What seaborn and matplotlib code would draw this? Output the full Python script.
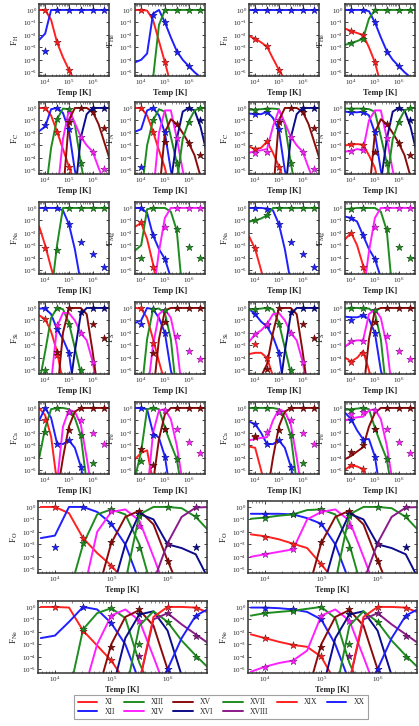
import matplotlib

matplotlib.use("Agg")
import matplotlib.pyplot as plt
import numpy as np
import pandas as pd
import seaborn as sns
from matplotlib.colors import to_rgb
from matplotlib.lines import Line2D

# log10(T) grid of the curves and the temperatures of the star markers
LOG_T = [3.75, 4.0, 4.25, 4.5, 4.75, 5.0, 5.25, 5.5, 5.75, 6.0, 6.25, 6.5, 6.75]
STAR_LOG_T = [4.0, 4.5, 5.0, 5.5, 6.0, 6.5]
N = None

ION_LABELS = ["XI", "XII", "XIII", "XIV", "XV", "XVI", "XVII", "XVIII", "XIX", "XX"]
ION_COLORS = ["#ff2020", "#1f1fff", "#1f8c1f", "#ff20ff", "#8b0b0b",
              "#0b0b8b", "#1f8c1f", "#8b1a8b", "#ff2020", "#1f1fff"]

# all values are log10 of the ion fraction; -7 is below the axis
H_A_LINES = [
    [0, 0, -0.8, -2.6, -3.8, -4.8, -5.7, -7, -7, -7, -7, -7, -7],
    [-2.4, -1.9, 0, 0, 0, 0, 0, 0, 0, 0, 0, 0, 0],
]
H_A_STARS = [[0, -2.6, -4.8, N, N, N], [-3.3, 0, 0, 0, 0, 0]]
H_B_LINES = [
    [-2.1, -2.3, -2.6, -2.95, -3.9, -4.8, -5.6, -7, -7, -7, -7, -7, -7],
    [0, 0, 0, 0, 0, 0, 0, 0, 0, 0, 0, 0, 0],
]
H_B_STARS = [[-2.3, -2.9, -4.8, N, N, N], [0, 0, 0, 0, 0, 0]]

HE_A_LINES = [
    [0, 0, -0.05, -0.8, -2.5, -4.2, -6, -7, -7, -7, -7, -7, -7],
    [-4.2, -4.0, -3.5, -0.3, 0, -1.0, -2.2, -3.3, -4.0, -4.5, -5.0, -5.4, -5.7],
    [-7, -7, -7, -5.5, -1.2, 0, 0, 0, 0, 0, 0, 0, 0],
]
HE_A_STARS = [[0, N, -4.2, N, N, N], [N, -0.4, -1.0, -3.35, -4.5, N], [N, N, 0, 0, 0, 0]]
HE_B_LINES = [
    [-1.5, -1.7, -1.85, -2.0, -3.0, -4.2, -6, -7, -7, -7, -7, -7, -7],
    [0, 0, 0, 0, -0.1, -1.0, -2.2, -3.3, -4.0, -4.5, -5.0, -5.4, -5.7],
    [-2.8, -2.65, -2.5, -2.3, -0.7, 0, 0, 0, 0, 0, 0, 0, 0],
]
HE_B_STARS = [[-1.7, -2.0, -4.2, N, N, N], [0, 0, -1.0, -3.35, -4.5, N], [-2.65, -2.35, 0, 0, 0, 0]]

C_A_LINES = [
    [0, 0, -0.6, -1.9, -3.3, -4.7, -6, -7, -7, -7, -7, -7, -7],
    [-1.85, -1.5, -0.1, 0, -0.4, -1.8, -5, -7, -7, -7, -7, -7, -7],
    [-7, -7, -3.2, -0.9, -0.05, -0.1, -1.3, -4.4, -7, -7, -7, -7, -7],
    [-7, -7, -7, -7, -2.5, -0.15, -1.2, -2.3, -3.0, -3.5, -4.8, -6, -7],
    [-7, -7, -7, -7, -7, -1.0, 0, 0, 0, -0.3, -1.3, -2.8, -4.3],
    [-7, -7, -7, -7, -7, -7, -7, -2.4, -0.5, 0, 0, 0, 0],
]
C_A_STARS = [
    [0, -1.9, -4.7, N, N, N], [-1.4, 0, -1.7, N, N, N], [N, -0.9, -0.05, -4.4, N, N],
    [N, N, -1.0, -2.3, -3.5, -4.9], [N, N, -1.15, 0, -0.3, -1.6], [N, N, N, N, 0, 0],
]
C_B_LINES = [
    [-3.1, -3.3, -3.2, -2.7, -3.6, -4.7, -6, -7, -7, -7, -7, -7, -7],
    [-0.45, -0.5, -0.5, -0.3, -0.8, -1.8, -5, -7, -7, -7, -7, -7, -7],
    [-0.15, -0.12, -0.1, -0.05, -0.05, -0.1, -1.3, -4.4, -7, -7, -7, -7, -7],
    [-3.6, -3.45, -3.4, -3.3, -1.5, -0.15, -1.2, -2.3, -3.0, -3.5, -4.8, -6, -7],
    [-7, -7, -7, -7, -7, -1.0, 0, 0, 0, -0.3, -1.3, -2.8, -4.3],
    [-7, -7, -7, -7, -7, -7, -7, -2.4, -0.5, 0, 0, 0, 0],
]
C_B_STARS = [
    [-3.3, -2.65, -4.7, N, N, N], [-0.5, -0.35, -1.7, N, N, N], [-0.15, -0.1, N, -4.4, N, N],
    [-3.6, -3.5, -1.0, -2.3, -3.5, -4.9], [N, N, -1.15, 0, -0.3, -1.6], [N, N, N, N, 0, 0],
]

N_A_LINES = [
    [0, 0, -0.6, -1.9, -3.4, -4.8, -7, -7, -7, -7, -7, -7, -7],
    [-1.9, -1.7, -0.2, 0, -0.6, -2.0, -5, -7, -7, -7, -7, -7, -7],
    [-7, -7, -3.0, -1.0, -0.1, -0.3, -2.3, -4.4, -7, -7, -7, -7, -7],
    [-7, -7, -7, -7, -2.0, -0.2, -0.2, -2.4, -5.0, -7, -7, -7, -7],
    [-7, -7, -7, -7, -7, -2.0, -0.9, -1.3, -2.0, -2.8, -3.8, -5.5, -7],
    [-7, -7, -7, -7, -7, -7, -6, -2.5, -0.3, 0, -0.2, -1.5, -3.5],
    [-7, -7, -7, -7, -7, -7, -7, -6, -2.5, -1.1, -0.2, 0, 0],
]
N_A_STARS = [
    [0, -1.9, N, N, N, N], [-4.7, 0, -1.9, N, N, N], [N, -1.0, N, -4.4, N, N],
    [N, N, N, -2.4, N, N], [N, N, -2.7, -1.3, -2.8, -3.8], [N, N, N, N, 0, -1.0],
    [N, N, N, N, -1.1, 0],
]
N_B_LINES = [
    [-3.0, -2.95, -2.9, -2.95, -3.8, -4.8, -7, -7, -7, -7, -7, -7, -7],
    [-0.3, -0.35, -0.35, -0.3, -0.6, -2.0, -5, -7, -7, -7, -7, -7, -7],
    [-0.05, -0.05, -0.05, -0.05, -0.1, -0.3, -2.3, -4.4, -7, -7, -7, -7, -7],
    [-3.5, -3.45, -3.3, -3.4, -1.0, -0.2, -0.2, -2.4, -5.0, -7, -7, -7, -7],
    [-7, -7, -7, -7, -7, -2.0, -0.9, -1.3, -2.0, -2.8, -3.8, -5.5, -7],
    [-7, -7, -7, -7, -7, -7, -6, -2.5, -0.3, 0, -0.2, -1.5, -3.5],
    [-7, -7, -7, -7, -7, -7, -7, -6, -2.5, -1.1, -0.2, 0, 0],
]
N_B_STARS = [
    [-2.9, -2.95, N, N, N, N], [-0.35, -0.3, -1.9, N, N, N], [-0.05, -0.05, N, -4.4, N, N],
    [-3.45, -3.4, N, -2.4, N, N], [N, N, -3.5, -1.3, -2.8, -3.8], [N, N, N, N, 0, -1.0],
    [N, N, N, N, -1.1, 0],
]

NA_A_LINES = [
    [-1.5, -3.0, -4.8, -6.5, -7, -7, -7, -7, -7, -7, -7, -7, -7],
    [0, 0, 0, 0, -0.2, -1.3, -3.3, -6, -7, -7, -7, -7, -7],
    [-7, -7, -7, -3.0, 0, 0, 0, 0, 0, 0, 0, 0, 0],
]
NA_A_STARS = [[-3.2, N, N, N, N, N], [0, 0, -1.3, -2.7, -3.7, -4.7], [N, -3.4, 0, 0, 0, 0]]
NA_B_LINES = [
    [-2.3, -3.3, -5, -7, -7, -7, -7, -7, -7, -7, -7, -7, -7],
    [0, 0, 0, -0.05, -0.2, -1.3, -3.3, -6, -7, -7, -7, -7, -7],
    [-1.1, -1.0, -0.85, -0.6, 0, 0, 0, 0, 0, 0, 0, 0, 0],
]
NA_B_STARS = [[-3.2, N, N, N, N, N], [0, -0.05, -1.3, -2.7, -3.7, -4.7], [-1.0, -0.6, 0, 0, 0, 0]]

MG_A_LINES = [
    [-1.5, -1.2, -2.5, -4.5, -7, -7, -7, -7, -7, -7, -7, -7, -7],
    [0, 0, -0.4, -2.2, -3.3, -4.1, -5.6, -7, -7, -7, -7, -7, -7],
    [-3.4, -3.0, -0.1, 0, 0, 0, -0.3, -1.8, -7, -7, -7, -7, -7],
    [-7, -7, -7, -7, -3.5, -0.8, 0, 0, 0, 0, 0, 0, 0],
]
MG_A_STARS = [
    [-1.15, -4.7, N, N, N, N], [0, -2.2, -4.1, N, N, N],
    [-4.05, 0, N, -1.7, -3.1, -4.0], [N, N, -1.55, 0, 0, 0],
]
MG_B_LINES = [
    [-2.5, -2.0, -3.0, -4.6, -7, -7, -7, -7, -7, -7, -7, -7, -7],
    [-0.7, -0.8, -1.1, -2.2, -3.3, -4.1, -5.6, -7, -7, -7, -7, -7, -7],
    [-0.08, -0.05, 0, 0, 0, 0, -0.3, -1.8, -7, -7, -7, -7, -7],
    [-7, -7, -7, -7, -3.5, -0.8, 0, 0, 0, 0, 0, 0, 0],
]
MG_B_STARS = [
    [-2.0, -4.7, N, N, N, N], [-0.8, -2.2, -4.1, N, N, N],
    [-0.05, 0, N, -1.7, -3.1, -4.0], [N, N, -1.55, 0, 0, 0],
]

SI_A_LINES = [
    [-0.6, -0.9, -1.9, -3.5, -6, -7, -7, -7, -7, -7, -7, -7, -7],
    [-0.05, -0.05, -0.5, -1.7, -2.5, -3.6, -7, -7, -7, -7, -7, -7, -7],
    [-6, -3.5, -0.8, 0, -0.1, -1.2, -3.2, -5.2, -7, -7, -7, -7, -7],
    [-7, -7, -6, -1.5, -0.4, -0.4, -1.0, -2.0, -2.6, -4.3, -7, -7, -7],
    [-7, -7, -7, -7, -2.0, -0.05, 0, 0, -0.5, -3.5, -7, -7, -7],
    [-7, -7, -7, -7, -7, -7, -3.5, -0.5, 0, 0, 0, 0, 0],
]
SI_A_STARS = [
    [-0.9, -3.75, N, N, N, N], [0, -1.7, -3.6, N, N, N], [-5.0, 0, -1.3, -4.95, N, N],
    [N, -1.4, N, -2.0, -4.3, N], [N, -3.5, 0, N, -1.3, -2.4], [N, N, N, -0.35, 0, 0],
]
SI_B_LINES = [
    [-3.7, -3.6, -3.6, -4.0, -5.5, -7, -7, -7, -7, -7, -7, -7, -7],
    [-0.1, -0.5, -1.1, -1.5, -2.3, -3.6, -7, -7, -7, -7, -7, -7, -7],
    [-0.15, -0.1, -0.05, 0, -0.1, -1.2, -3.2, -5.2, -7, -7, -7, -7, -7],
    [-2.7, -2.1, -1.8, -1.3, -0.5, -0.4, -1.0, -2.0, -2.6, -4.3, -7, -7, -7],
    [-7, -7, -5.5, -4.5, -2.0, -0.05, 0, 0, -0.5, -3.5, -7, -7, -7],
    [-7, -7, -7, -7, -7, -7, -3.5, -0.5, 0, 0, 0, 0, 0],
]
SI_B_STARS = [
    [-2.9, -4.0, N, N, N, N], [-0.5, -1.4, -3.6, N, N, N], [-0.1, 0, -1.3, -4.95, N, N],
    [-2.1, -1.3, N, -2.0, -4.3, N], [N, -4.9, 0, N, -1.3, -2.4], [N, N, N, -0.35, 0, 0],
]

S_A_LINES = [
    [0, -0.05, -0.8, -2.5, -4.3, -6, -7, -7, -7, -7, -7, -7, -7],
    [-1.2, -1.0, 0, -0.1, -0.8, -2.0, -5, -7, -7, -7, -7, -7, -7],
    [-7, -7, -2.5, -0.1, -0.05, -0.4, -2.5, -7, -7, -7, -7, -7, -7],
    [-7, -7, -7, -3.0, -0.5, -0.1, -0.8, -3.0, -7, -7, -7, -7, -7],
    [-7, -7, -7, -7, -2.5, -0.2, 0, 0, 0, 0, 0, 0, 0],
]
S_A_STARS = [
    [0, -2.85, N, N, N, N], [-1.3, -0.1, -2.0, N, N, N], [N, -0.1, -0.2, N, N, N],
    [N, N, N, -2.25, -3.45, -4.1], [N, -3.6, -1.15, 0, 0, 0],
]
S_B_LINES = [
    [-4.0, -4.3, -4.0, -3.45, -5.0, -7, -7, -7, -7, -7, -7, -7, -7],
    [-0.7, -0.75, -0.75, -0.6, -0.9, -2.0, -5, -7, -7, -7, -7, -7, -7],
    [-0.05, 0, 0, -0.05, -0.05, -0.4, -2.5, -7, -7, -7, -7, -7, -7],
    [-3.1, -2.7, -2.6, -2.6, -0.5, -0.1, -0.8, -3.0, -7, -7, -7, -7, -7],
    [-7, -7, -7, -7, -2.5, -0.2, 0, 0, 0, 0, 0, 0, 0],
]
S_B_STARS = [
    [-4.3, -3.6, N, N, N, N], [-1.0, -0.6, -2.0, N, N, N], [0, 0, -0.2, N, N, N],
    [-2.65, -2.65, N, -2.25, -3.45, -4.1], [N, N, -1.15, 0, 0, 0],
]

CA_A_LINES = [
    [0, -0.6, -2.3, -6, -7, -7, -7, -7, -7, -7, -7, -7, -7],
    [-1.0, 0, -0.8, -2.85, -2.9, -2.6, -3.2, -4.7, -7, -7, -7, -7, -7],
    [-4.0, -1.6, -0.1, 0, 0, -0.1, -0.8, -2.2, -6, -7, -7, -7, -7],
    [-7, -7, -7, -6, -1.5, -0.15, -0.3, -1.3, -4.0, -7, -7, -7, -7],
    [-7, -7, -7, -7, -4.0, -1.5, -0.3, 0, 0, 0, 0, 0, 0],
]
CA_A_STARS = [
    [-1.0, N, N, N, N, N], [0, -2.9, -2.6, -4.7, N, N], [-1.9, 0, -0.3, -2.2, -4.4, N],
    [N, N, -0.3, -1.0, -2.0, -2.9], [N, N, -1.8, 0, 0, 0],
]
CA_B_LINES = [
    [-3.1, -3.2, -5, -7, -7, -7, -7, -7, -7, -7, -7, -7, -7],
    [-1.1, -1.3, -2.0, -2.9, -2.9, -2.6, -3.2, -4.7, -7, -7, -7, -7, -7],
    [0, 0, 0, 0, 0, -0.1, -0.8, -2.2, -6, -7, -7, -7, -7],
    [-2.6, -2.5, -2.4, -2.35, -1.0, -0.1, -0.3, -1.3, -4.0, -7, -7, -7, -7],
    [-7, -7, -7, -7, -4.0, -1.5, -0.3, 0, 0, 0, 0, 0, 0],
]
CA_B_STARS = [
    [-2.3, N, N, N, N, N], [-1.3, -2.9, -2.6, -4.7, N, N], [0, 0, -0.3, -2.2, -4.4, N],
    [N, -1.9, -0.3, -1.0, -2.0, -2.9], [-2.25, N, -1.8, 0, 0, 0],
]

FE_A_LINES = [
    [-4.1, -3.6, -3.4, -6, -7, -7, -7, -7, -7, -7, -7, -7, -7],
    [0, 0, -0.1, -2.0, -2.4, -3.9, -7, -7, -7, -7, -7, -7, -7],
    [-5.5, -3.5, -0.1, 0, -0.1, -1.6, -2.9, -4.1, -7, -7, -7, -7, -7],
    [-7, -7, -7, -2.0, -0.2, -0.1, -0.9, -3.0, -6, -7, -7, -7, -7],
    [-7, -7, -7, -6, -2.5, -0.5, 0, 0, 0, 0, 0, 0, 0],
]
FE_A_STARS = [
    [N, N, N, N, N, N], [0, -2.15, -3.9, N, N, N], [-4.25, 0, -1.65, -4.1, N, N],
    [N, N, -0.2, -1.65, -2.75, -3.6], [-3.3, -4.6, -1.65, 0, 0, 0],
]
FE_B_LINES = [
    [-4.95, -4.6, -4.7, -4.9, -7, -7, -7, -7, -7, -7, -7, -7, -7],
    [-0.4, -0.9, -1.8, -2.5, -2.5, -3.9, -7, -7, -7, -7, -7, -7, -7],
    [-0.15, -0.1, -0.05, 0, -0.1, -1.6, -2.9, -4.1, -7, -7, -7, -7, -7],
    [-1.0, -0.85, -0.75, -0.7, -0.2, -0.1, -0.9, -3.0, -6, -7, -7, -7, -7],
    [-4.1, -3.85, -3.5, -3.15, -1.5, -0.4, 0, 0, 0, 0, 0, 0, 0],
]
FE_B_STARS = [
    [-4.6, -4.9, N, N, N, N], [-1.0, -2.55, -3.9, N, N, N], [-0.15, 0, -1.65, -4.1, N, N],
    [-0.45, -0.3, -0.2, -1.65, -2.75, -3.6], [-3.5, -3.0, -1.65, 0, 0, 0],
]

O_A_LINES = [
    [0, 0, -0.5, -2.5, -3.7, -4.7, -6, -7, -7, -7, -7, -7, -7],
    [-2.5, -2.3, 0, 0, -0.4, -1.35, -3.0, -6, -7, -7, -7, -7, -7],
    [-7, -7, -7, -3.0, -0.6, -0.2, -0.6, -3.0, -7, -7, -7, -7, -7],
    [-7, -7, -7, -7, -2.0, -0.4, -0.2, -1.1, -4.0, -7, -7, -7, -7],
    [-7, -7, -7, -7, -7, -2.9, -0.8, -0.3, -1.4, -4.3, -7, -7, -7],
    [-7, -7, -7, -7, -7, -7, -3.0, -0.55, -1.0, -3.0, -3.3, -3.8, -6],
    [-7, -7, -7, -7, -7, -7, -6, -0.6, 0, 0, -0.1, -0.8, -2.0],
    [-7, -7, -7, -7, -7, -7, -7, -7, -6, -2.9, -0.8, -0.05, 0],
]
O_A_STARS = [
    [0, -2.5, -4.7, N, N, N], [-3.2, 0, -1.35, N, N, N], [N, -2.9, -0.2, -3.3, N, N],
    [N, N, -0.3, -1.5, N, N], [N, N, -2.8, -0.3, -4.3, N], [N, N, N, -0.55, -3.0, -3.2],
    [N, N, N, -0.7, 0, -0.7], [N, N, N, N, -3.0, 0],
]
O_B_LINES = [
    [-2.2, -2.35, -2.6, -2.95, -3.3, -4.6, -6, -7, -7, -7, -7, -7, -7],
    [-0.55, -0.55, -0.55, -0.6, -0.9, -1.35, -3.0, -6, -7, -7, -7, -7, -7],
    [-0.95, -0.85, -0.7, -0.6, -0.25, -0.2, -0.6, -3.0, -7, -7, -7, -7, -7],
    [-4.0, -3.8, -3.6, -3.4, -1.0, -0.4, -0.2, -1.1, -4.0, -7, -7, -7, -7],
    [-7, -7, -7, -7, -7, -2.9, -0.8, -0.3, -1.4, -4.3, -7, -7, -7],
    [-7, -7, -7, -7, -7, -7, -3.0, -0.55, -1.0, -3.0, -3.3, -3.8, -6],
    [-7, -7, -7, -7, -7, -7, -6, -0.6, 0, 0, -0.1, -0.8, -2.0],
    [-7, -7, -7, -7, -7, -7, -7, -7, -6, -2.9, -0.8, -0.05, 0],
]
O_B_STARS = [
    [-2.4, -2.95, -4.6, N, N, N], [-0.55, -0.55, -1.35, N, N, N], [-0.85, -0.6, -0.2, -3.3, N, N],
    [-3.8, -3.4, -0.3, -1.5, N, N], [N, N, -2.8, -0.3, -4.3, N], [N, N, N, -0.55, -3.0, -3.2],
    [N, N, N, -0.7, 0, -0.7], [N, N, N, N, -3.0, 0],
]

NE_A_LINES = [
    [0, 0, -0.05, -1.9, -3.1, -4.3, -6, -7, -7, -7, -7, -7, -7],
    [-2.5, -2.3, -1.2, 0, -0.2, -1.3, -3.0, -6, -7, -7, -7, -7, -7],
    [-7, -7, -7, -1.8, -0.5, -0.1, -0.9, -4.5, -7, -7, -7, -7, -7],
    [-7, -7, -7, -7, -3.0, -0.7, -0.2, -1.1, -4.0, -7, -7, -7, -7],
    [-7, -7, -7, -7, -7, -3.0, -0.8, -0.25, -1.5, -5.0, -7, -7, -7],
    [-7, -7, -7, -7, -7, -7, -2.5, -0.6, -0.35, -1.9, -5.5, -7, -7],
    [-7, -7, -7, -7, -7, -7, -7, -1.5, -0.35, -1.2, -2.7, -3.9, -5],
    [-7, -7, -7, -7, -7, -7, -7, -6, -1.0, -0.5, -1.4, -2.2, -3.0],
    [-7, -7, -7, -7, -7, -7, -7, -6, -0.8, 0, 0, -0.05, -0.5],
    [-7, -7, -7, -7, -7, -7, -7, -7, -7, -5.0, -2.5, -0.7, -0.1],
]
NE_A_STARS = [
    [0, -1.9, -4.25, N, N, N], [N, 0, -1.3, N, N, N], [N, -1.8, -0.1, -3.0, N, N],
    [N, N, -0.7, -1.1, N, N], [N, N, -3.2, -0.15, N, N], [N, N, N, -0.6, N, N],
    [N, N, N, N, -1.2, -4.0], [N, N, N, -3.9, -0.5, -2.3], [N, N, N, N, 0, -0.1],
    [N, N, N, N, -5.0, -0.7],
]
NE_B_LINES = [
    [-2.2, -2.5, -2.8, -3.05, -3.2, -4.0, -6, -7, -7, -7, -7, -7, -7],
    [-0.05, -0.05, -0.1, -0.2, -0.4, -1.0, -3.0, -6, -7, -7, -7, -7, -7],
    [-0.7, -0.5, -0.4, -0.3, -0.15, 0, -0.9, -4.5, -7, -7, -7, -7, -7],
    [-5.2, -4.8, -4.5, -4.3, -3.5, -0.7, -0.2, -1.1, -4.0, -7, -7, -7, -7],
    [-7, -7, -7, -7, -7, -3.0, -0.8, -0.25, -1.5, -5.0, -7, -7, -7],
    [-7, -7, -7, -7, -7, -7, -2.5, -0.6, -0.35, -1.9, -5.5, -7, -7],
    [-7, -7, -7, -7, -7, -7, -7, -1.5, -0.35, -1.2, -2.7, -3.9, -5],
    [-7, -7, -7, -7, -7, -7, -7, -6, -1.0, -0.5, -1.4, -2.2, -3.0],
    [-7, -7, -7, -7, -7, -7, -7, -6, -0.8, 0, 0, -0.05, -0.5],
    [-7, -7, -7, -7, -7, -7, -7, -7, -7, -5.0, -2.5, -0.7, -0.1],
]
NE_B_STARS = [
    [-2.5, -3.05, -3.9, N, N, N], [-0.05, -0.2, -1.0, N, N, N], [-0.5, -0.3, 0, -3.0, N, N],
    [-4.8, -4.3, -0.7, -1.1, N, N], [N, N, -3.2, -0.15, N, N], [N, N, N, -0.6, N, N],
    [N, N, N, N, -1.2, -4.0], [N, N, N, -3.9, -0.5, -2.3], [N, N, N, N, 0, -0.1],
    [N, N, N, N, -5.0, -0.7],
]

FIG_W, FIG_H = 419, 726
SMALL_COLS = [39, 135, 249, 345]
SMALL_ROWS = [4, 102, 202, 302, 402]
WIDE_COLS = [38, 248]
WIDE_ROWS = [501, 601]


def darker(color, f=0.55):
    r, g, b = to_rgb(color)
    return (r * f, g * f, b * f)


def add_axes(fig, x, y, w, h):
    return fig.add_axes([x / FIG_W, 1 - (y + h) / FIG_H, w / FIG_W, h / FIG_H])


def draw_panel(ax, element, lines, stars, xlim):
    ax.set_xscale("log")
    ax.set_yscale("log")
    temps = 10.0 ** np.array(LOG_T)
    for i, vals in enumerate(lines):
        df = pd.DataFrame({"T": temps, "F": 10.0 ** np.array(vals, dtype=float)})
        sns.lineplot(data=df, x="T", y="F", color=ION_COLORS[i % 10], lw=1.4,
                     estimator=None, ax=ax, zorder=2)
    for i, vals in enumerate(stars):
        pts = [(10.0 ** t, 10.0 ** v) for t, v in zip(STAR_LOG_T, vals) if v is not None]
        if not pts:
            continue
        df = pd.DataFrame(pts, columns=["T", "F"])
        c = ION_COLORS[i % 10]
        sns.scatterplot(data=df, x="T", y="F", marker="*", s=30, color=c,
                        edgecolor=darker(c), linewidth=0.4, ax=ax, zorder=4, clip_on=False)
    ax.set_xlim(*xlim)
    ax.set_ylim(5e-6, 3.0)
    ax.set_xticks([1e4, 1e5, 1e6])
    ax.set_yticks([1e-5, 1e-4, 1e-3, 1e-2, 1e-1, 1e0])
    ax.tick_params(which="both", direction="in", top=True, right=True, labelsize=5, pad=1.5)
    ax.tick_params(which="major", length=2.5, width=0.6)
    ax.tick_params(which="minor", length=1.3, width=0.4)
    for sp in ax.spines.values():
        sp.set_linewidth(1.1)
        sp.set_color("#333333")
    ax.set_xlabel("Temp [K]", fontsize=6, fontweight="bold", labelpad=1.5)
    ax.set_ylabel("F$_{\\rm %s}$" % element, fontsize=6.5, labelpad=1.5)


def main():
    sns.set_style("ticks")
    plt.rcParams["font.family"] = ["Liberation Serif", "DejaVu Serif"]
    plt.rcParams["mathtext.fontset"] = "stix"

    fig = plt.figure(figsize=(FIG_W / 100, FIG_H / 100), dpi=100)
    fig.patch.set_facecolor("white")

    small_rows = [
        [("H", H_A_LINES, H_A_STARS), ("He", HE_A_LINES, HE_A_STARS),
         ("H", H_B_LINES, H_B_STARS), ("He", HE_B_LINES, HE_B_STARS)],
        [("C", C_A_LINES, C_A_STARS), ("N", N_A_LINES, N_A_STARS),
         ("C", C_B_LINES, C_B_STARS), ("N", N_B_LINES, N_B_STARS)],
        [("Na", NA_A_LINES, NA_A_STARS), ("Mg", MG_A_LINES, MG_A_STARS),
         ("Na", NA_B_LINES, NA_B_STARS), ("Mg", MG_B_LINES, MG_B_STARS)],
        [("Si", SI_A_LINES, SI_A_STARS), ("S", S_A_LINES, S_A_STARS),
         ("Si", SI_B_LINES, SI_B_STARS), ("S", S_B_LINES, S_B_STARS)],
        [("Ca", CA_A_LINES, CA_A_STARS), ("Fe", FE_A_LINES, FE_A_STARS),
         ("Ca", CA_B_LINES, CA_B_STARS), ("Fe", FE_B_LINES, FE_B_STARS)],
    ]
    for y, row in zip(SMALL_ROWS, small_rows):
        for x, (el, lines, stars) in zip(SMALL_COLS, row):
            ax = add_axes(fig, x, y, 70, 72)
            draw_panel(ax, el, lines, stars, (10 ** 3.74, 10 ** 6.69))

    wide_rows = [
        [("O", O_A_LINES, O_A_STARS), ("O", O_B_LINES, O_B_STARS)],
        [("Ne", NE_A_LINES, NE_A_STARS), ("Ne", NE_B_LINES, NE_B_STARS)],
    ]
    for y, row in zip(WIDE_ROWS, wide_rows):
        for x, (el, lines, stars) in zip(WIDE_COLS, row):
            ax = add_axes(fig, x, y, 169, 72)
            draw_panel(ax, el, lines, stars, (10 ** 3.70, 10 ** 6.70))

    handles = [Line2D([], [], color=c, lw=1.4) for c in ION_COLORS]
    leg = fig.legend(handles, ION_LABELS, loc="center", ncol=6,
                     bbox_to_anchor=(221 / FIG_W, 1 - 707 / FIG_H),
                     fontsize=5.5, frameon=True, fancybox=False, edgecolor="#888888",
                     handlelength=2.6, columnspacing=1.2, labelspacing=0.15,
                     borderpad=0.5, handletextpad=0.9, borderaxespad=0)
    leg.get_frame().set_linewidth(0.8)

    fig.savefig("out.png", dpi=100, facecolor="white")
    plt.close(fig)


if __name__ == "__main__":
    main()
